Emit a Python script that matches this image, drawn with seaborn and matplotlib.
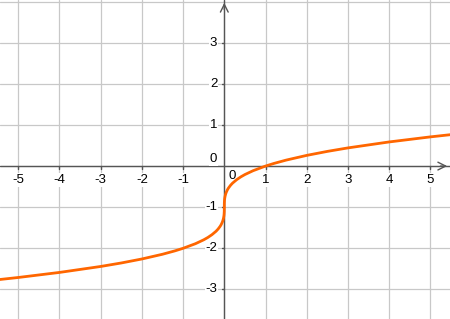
import matplotlib
matplotlib.use("Agg")
import matplotlib.pyplot as plt
import seaborn as sns
import pandas as pd

# Points
x_vals = [-5.5, -5.0, -4.0, -3.0, -2.5, -2.0, -1.5, -1.2, -1.0, -0.7, -0.5, -0.4, -0.3, -0.2,
          -0.15, -0.1, -0.075, -0.05, -0.035, -0.02, -0.01, -0.005, -0.001, 0.0,
          0.001, 0.005, 0.01, 0.02, 0.035, 0.05, 0.075, 0.1, 0.15, 0.2, 0.3, 0.4,
          0.5, 0.7, 1.0, 1.2, 1.5, 2.0, 2.5, 3.0, 4.0, 5.0, 5.5]
y_vals = [-2.765, -2.710, -2.587, -2.442, -2.357, -2.260, -2.145, -2.063, -2.000, -1.888,
          -1.794, -1.737, -1.669, -1.585, -1.531, -1.464, -1.422, -1.368, -1.327, -1.271,
          -1.215, -1.171, -1.100, -1.000,
          -0.900, -0.829, -0.785, -0.729, -0.673, -0.632, -0.578, -0.536, -0.469, -0.415,
          -0.331, -0.263, -0.206, -0.112, 0.000, 0.063, 0.145, 0.260, 0.357, 0.442,
          0.587, 0.710, 0.765]

x_ticks = [-5, -4, -3, -2, -1, 0, 1, 2, 3, 4, 5]
y_ticks = [-3, -2, -1, 0, 1, 2, 3]
x_labels = ["-5", "-4", "-3", "-2", "-1", "0", "1", "2", "3", "4", "5"]
y_labels = ["-3", "-2", "-1", "0", "1", "2", "3"]

df = pd.DataFrame({"x": x_vals, "y": y_vals})

sns.set_style("white")
plt.rcParams["font.family"] = ["Liberation Sans", "DejaVu Sans"]

fig = plt.figure(figsize=(4.5, 3.19), dpi=100)
ax = fig.add_axes([0, 0, 1, 1])

XMIN, XMAX = -5.444, 5.478
YMIN, YMAX = -3.72, 4.04
ax.set_xlim(XMIN, XMAX)
ax.set_ylim(YMIN, YMAX)
for s in ax.spines.values():
    s.set_visible(False)
ax.set_xticks([])
ax.set_yticks([])

gridc = "#c8c8c8"
for t in range(-6, 7):
    ax.axvline(t, color=gridc, lw=0.9, zorder=0)
for t in range(-4, 5):
    ax.axhline(t, color=gridc, lw=0.9, zorder=0)

axc = "#555555"
ax.axhline(0, color=axc, lw=1.0, zorder=2)
ax.axvline(0, color=axc, lw=1.0, zorder=2)
# arrow heads
ax.annotate("", xy=(XMAX, 0), xytext=(XMAX - 0.3, 0),
            arrowprops=dict(arrowstyle="->", color=axc, lw=1.0, mutation_scale=14), zorder=2)
ax.annotate("", xy=(0, YMAX), xytext=(0, YMAX - 0.3),
            arrowprops=dict(arrowstyle="->", color=axc, lw=1.0, mutation_scale=14), zorder=2)

fs = 9.5
bb = dict(facecolor="white", edgecolor="none", pad=0.6)
for t, lab in zip(x_ticks, x_labels):
    if t == 0:
        ax.text(0.2, -0.24, lab, ha="center", va="center", fontsize=fs, color="black",
                bbox=bb, zorder=3)
    else:
        ax.text(t, -0.34, lab, ha="center", va="center", fontsize=fs, color="black",
                bbox=bb, zorder=3)
        ax.plot([t, t], [0, -0.06], color=axc, lw=1.0, zorder=2)
for t, lab in zip(y_ticks, y_labels):
    if t == 0:
        ax.text(-0.17, 0.16, lab, ha="right", va="center", fontsize=fs, color="black",
                bbox=bb, zorder=3)
    else:
        ax.text(-0.17, t, lab, ha="right", va="center", fontsize=fs, color="black",
                bbox=bb, zorder=3)
        ax.plot([0, -0.06], [t, t], color=axc, lw=1.0, zorder=2)

sns.lineplot(data=df, x="x", y="y", sort=False, estimator=None, ax=ax,
             color="#ff6600", lw=2.0, zorder=4)
ax.set_xlabel("")
ax.set_ylabel("")

fig.savefig("out.png", dpi=100)
